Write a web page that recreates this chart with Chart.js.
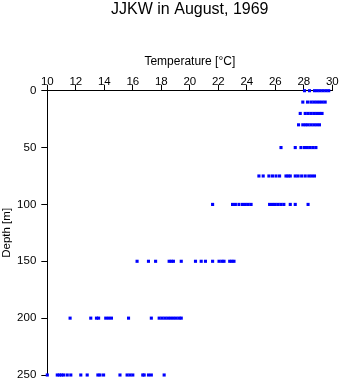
<!DOCTYPE html>
<html>
<head>
<meta charset="utf-8">
<script src="https://cdn.jsdelivr.net/npm/chart.js@4/dist/chart.umd.min.js"></script>
<style>
  html, body { margin: 0; padding: 0; background: #ffffff; }
  #wrap { width: 341px; height: 384px; }
</style>
</head>
<body>
<div id="wrap"><canvas id="c" width="341" height="384"></canvas></div>
<script>
// ---- data ----
const chartTitle = "JJKW in August, 1969";
const xAxisTitle = "Temperature [°C]";
const yAxisTitle = "Depth [m]";

const depthLevels = [0, 10, 20, 30, 50, 75, 100, 150, 200, 250];

const temps0   = [28.05, 28.4, 28.75, 28.95, 29.15, 29.35, 29.55, 29.75];
const temps10  = [27.93, 28.26, 28.5, 28.7, 28.9, 29.1, 29.3, 29.5];
const temps20  = [27.75, 28.1, 28.3, 28.5, 28.7, 28.9, 29.1, 29.28];
const temps30  = [27.63, 27.93, 28.12, 28.3, 28.5, 28.7, 28.9, 29.1];
const temps50  = [26.4, 27.4, 27.8, 28.05, 28.25, 28.45, 28.65, 28.85];
const temps75  = [24.85, 25.15, 25.55, 25.8, 26.05, 26.3, 26.75, 26.9, 27.05, 27.4, 27.6, 27.85, 28.1, 28.35, 28.55, 28.75];
const temps100 = [21.6, 23.0, 23.2, 23.45, 23.7, 23.9, 24.1, 24.3, 25.6, 25.8, 26.0, 26.2, 26.4, 26.6, 27.05, 27.4, 28.3];
const temps150 = [16.3, 17.1, 17.6, 18.55, 18.7, 18.85, 19.4, 20.4, 20.8, 21.1, 21.6, 22.05, 22.25, 22.4, 22.8, 22.95, 23.1];
const temps200 = [11.6, 13.05, 13.45, 13.6, 14.1, 14.3, 14.5, 15.7, 17.3, 17.85, 18.05, 18.25, 18.45, 18.65, 18.85, 19.05, 19.25, 19.4];
const temps250 = [10.0, 10.7, 10.85, 11.0, 11.15, 11.4, 11.65, 12.35, 12.8, 13.55, 13.7, 13.95, 15.1, 15.6, 15.8, 16.0, 16.7, 16.8, 17.1, 17.3, 18.2];

const xTickMin = 10, xTickMax = 30, xTickStep = 2;
const yTickMin = 0, yTickMax = 250, yTickStep = 50;

// ---- build scatter points ----
const tempsByLevel = [temps0, temps10, temps20, temps30, temps50, temps75, temps100, temps150, temps200, temps250];
const points = [];
depthLevels.forEach((d, i) => {
  tempsByLevel[i].forEach(t => points.push({ x: t, y: d }));
});

const FONT = "'Liberation Sans', Arial, Helvetica, sans-serif";
const TITLE_SIZE = 16, TITLE_PAD_BOTTOM = 27;

const titleCenterPlugin = {
  id: 'titleCenter',
  afterLayout(chart) {
    const t = chart.titleBlock;
    if (t) {
      t.left = chart.chartArea.left;
      t.right = chart.chartArea.right;
      t.width = t.right - t.left;
    }
  }
};

new Chart(document.getElementById('c'), {
  type: 'scatter',
  data: {
    datasets: [{
      data: points,
      pointStyle: 'rect',
      pointRadius: 2.2,
      pointHoverRadius: 2.2,
      pointBorderWidth: 0,
      backgroundColor: '#0000ff',
      borderColor: '#0000ff',
      clip: false
    }]
  },
  plugins: [titleCenterPlugin],
  options: {
    responsive: false,
    animation: false,
    events: [],
    layout: { padding: { left: 0, top: 0, right: 8.7, bottom: 9 } },
    plugins: {
      legend: { display: false },
      tooltip: { enabled: false },
      title: {
        display: true,
        text: chartTitle,
        color: '#000000',
        font: { family: FONT, size: TITLE_SIZE, weight: 'normal' },
        padding: { top: 0, bottom: TITLE_PAD_BOTTOM }
      }
    },
    scales: {
      x: {
        type: 'linear',
        position: 'top',
        min: xTickMin,
        max: xTickMax,
        afterFit(s) { s.height = 90.7 - (TITLE_SIZE * 1.2 + TITLE_PAD_BOTTOM); },
        ticks: {
          stepSize: xTickStep,
          color: '#000000',
          font: { family: FONT, size: 11.5 },
          padding: -4.5,
          maxRotation: 0,
          autoSkip: false
        },
        grid: {
          display: true,
          drawOnChartArea: false,
          drawTicks: true,
          tickLength: 6,
          color: '#000000',
          lineWidth: 1
        },
        border: { display: true, color: '#000000', width: 1 },
        title: {
          display: true,
          text: xAxisTitle,
          color: '#000000',
          font: { family: FONT, size: 12 },
          padding: { top: 8, bottom: 0 }
        }
      },
      y: {
        type: 'linear',
        position: 'left',
        reverse: true,
        min: yTickMin,
        max: yTickMax,
        afterFit(s) { s.width = 47.3; s.paddingTop = 0; s.paddingBottom = 0; },
        ticks: {
          stepSize: yTickStep,
          color: '#000000',
          font: { family: FONT, size: 11.5 },
          padding: 5
        },
        grid: {
          display: true,
          drawOnChartArea: false,
          drawTicks: true,
          tickLength: 6,
          color: '#000000',
          lineWidth: 1
        },
        border: { display: true, color: '#000000', width: 1 },
        title: {
          display: true,
          text: yAxisTitle,
          color: '#000000',
          font: { family: FONT, size: 11.5 },
          padding: { top: 0, bottom: 0 }
        }
      }
    }
  }
});
</script>
</body>
</html>
